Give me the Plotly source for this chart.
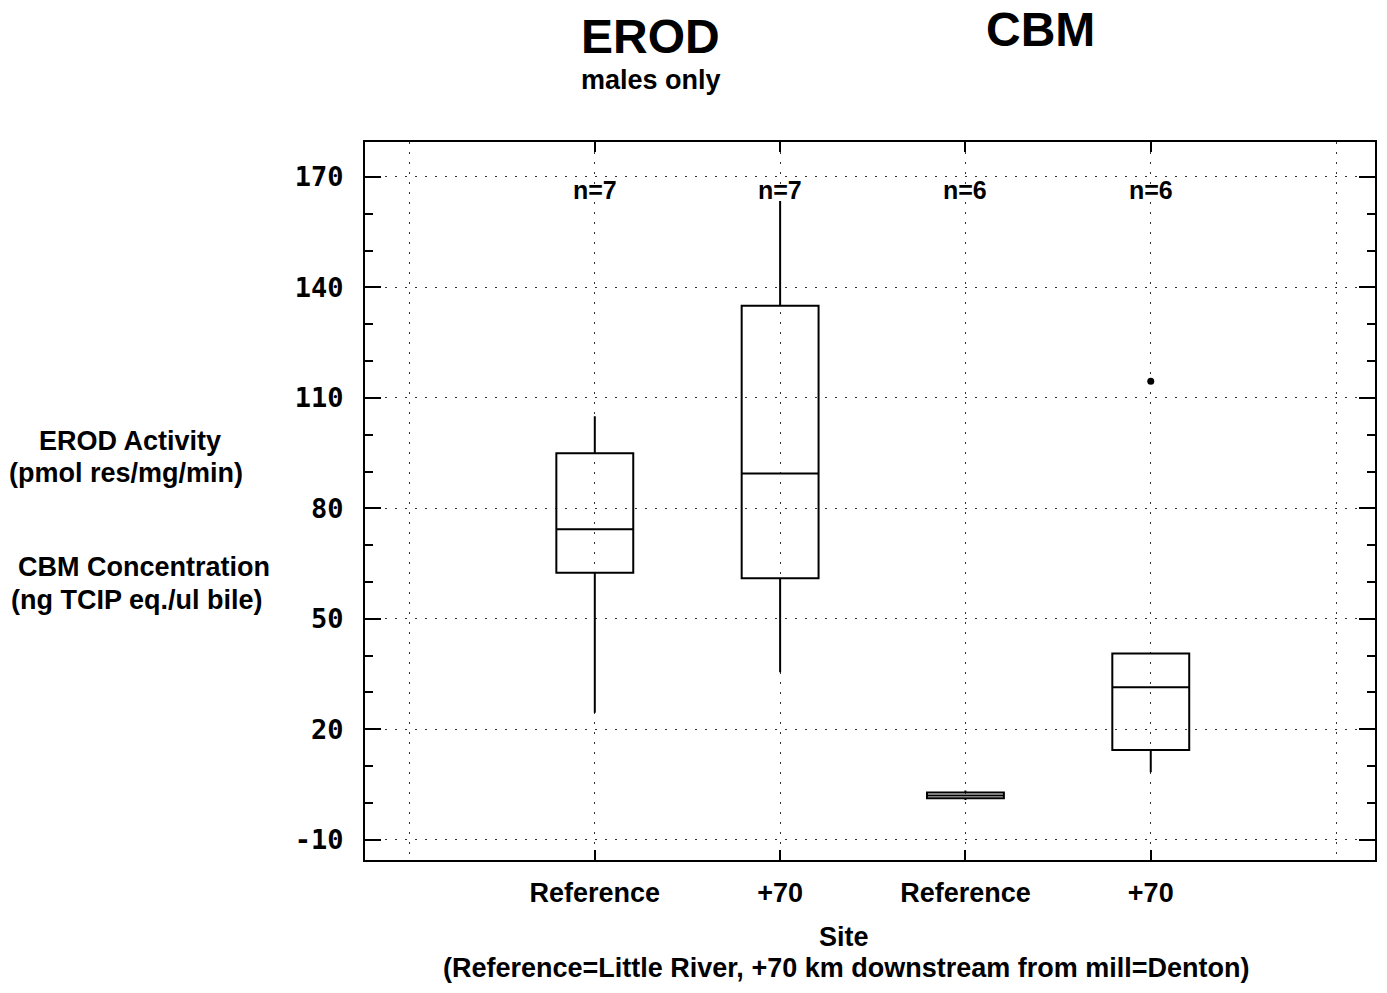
import plotly.graph_objects as go

# ---- data ----
sites = ["Reference", "+70", "Reference", "+70"]
positions = [0, 1, 2, 3]
lower_whisker = [24.5, 35.5, 0.8, 8.3]
q1_vals = [62.5, 61.0, 1.3, 14.4]
median_vals = [74.3, 89.5, 2.0, 31.4]
q3_vals = [95.0, 135.0, 2.8, 40.6]
upper_whisker = [105.0, 163.5, 3.4, 40.6]
n_counts = [7, 7, 6, 6]
outlier_x = [3]
outlier_y = [114.5]
y_ticks = [-10, 20, 50, 80, 110, 140, 170]

# ---- layout geometry (pixels) ----
FW, FH = 1387, 993
L, R, T, B = 365, 1377, 142, 860
PW, PH = R - L, B - T


def px(x):
    return (x - L) / PW


def py(y):
    return (B - y) / PH


fig = go.Figure()

fig.add_trace(go.Box(
    x=positions, q1=q1_vals, median=median_vals, q3=q3_vals,
    lowerfence=lower_whisker, upperfence=upper_whisker,
    width=0.415, whiskerwidth=0, boxpoints=False,
    line=dict(color="black", width=2), fillcolor="rgba(255,255,255,0)",
    showlegend=False, hoverinfo="skip",
))

fig.add_trace(go.Scatter(
    x=outlier_x, y=outlier_y, mode="markers",
    marker=dict(color="black", size=7), showlegend=False,
))

# dummy trace for extra vertical gridlines axis
fig.add_trace(go.Scatter(x=[-1, 4], y=[None, None], xaxis="x2", mode="lines",
                         showlegend=False, hoverinfo="skip"))

tick_font = dict(family="DejaVu Sans Mono", size=27, color="black", weight="bold")
label_font = dict(family="Liberation Sans", size=27, color="black", weight="bold")
grid_dash = "2px,8px"

fig.update_layout(
    width=FW, height=FH,
    margin=dict(l=L, r=FW - R, t=T, b=FH - B),
    paper_bgcolor="white", plot_bgcolor="white",
    xaxis=dict(
        range=[-1.24, 4.21], tickvals=positions, ticktext=sites,
        ticks="inside", ticklen=10, tickwidth=2, tickcolor="black",
        showline=True, linewidth=2, linecolor="black", mirror="ticks",
        showgrid=True, gridcolor="#333333", gridwidth=1, griddash=grid_dash,
        zeroline=False, tickfont=label_font, ticklabelstandoff=8,
    ),
    xaxis2=dict(
        range=[-1.24, 4.21], overlaying="x", tickvals=[-1, 4], showticklabels=False,
        ticks="", showline=False, showgrid=True, gridcolor="#333333", gridwidth=1,
        griddash=grid_dash, zeroline=False,
    ),
    yaxis=dict(
        range=[-15.5, 179.5], tickvals=y_ticks, ticktext=[str(v) for v in y_ticks],
        ticks="inside", ticklen=16, tickwidth=2, tickcolor="black",
        minor=dict(dtick=10, tick0=-10, ticks="inside", ticklen=8, tickwidth=2,
                   tickcolor="black", showgrid=False),
        showline=True, linewidth=2, linecolor="black", mirror="ticks",
        showgrid=True, gridcolor="#333333", gridwidth=1, griddash=grid_dash,
        zeroline=False, tickfont=tick_font, ticklabelstandoff=14,
    ),
)

# n labels
for p, n in zip(positions, n_counts):
    fig.add_annotation(x=p, y=166.5, xref="x", yref="y", text=f"n={n}",
                       showarrow=False,
                       font=dict(family="Liberation Sans", size=25, color="black", weight="bold"))

# titles
ann = [
    ("EROD", 651, 37, 48),
    ("males only", 652, 80, 27),
    ("CBM", 1042, 30, 48),
    ("EROD Activity", 130, 441, 27),
    ("(pmol res/mg/min)", 126, 473, 27),
    ("CBM Concentration", 144, 567, 27),
    ("(ng TCIP eq./ul bile)", 137, 600, 27),
    ("Site", 845, 937, 27),
    ("(Reference=Little River, +70 km downstream from mill=Denton)", 847, 968, 27),
]
for text, x, y, size in ann:
    fig.add_annotation(x=px(x), y=py(y), xref="paper", yref="paper", text=text,
                       showarrow=False, xanchor="center", yanchor="middle",
                       font=dict(family="Liberation Sans", size=size, color="black", weight="bold"))

fig.write_html("out.html")
